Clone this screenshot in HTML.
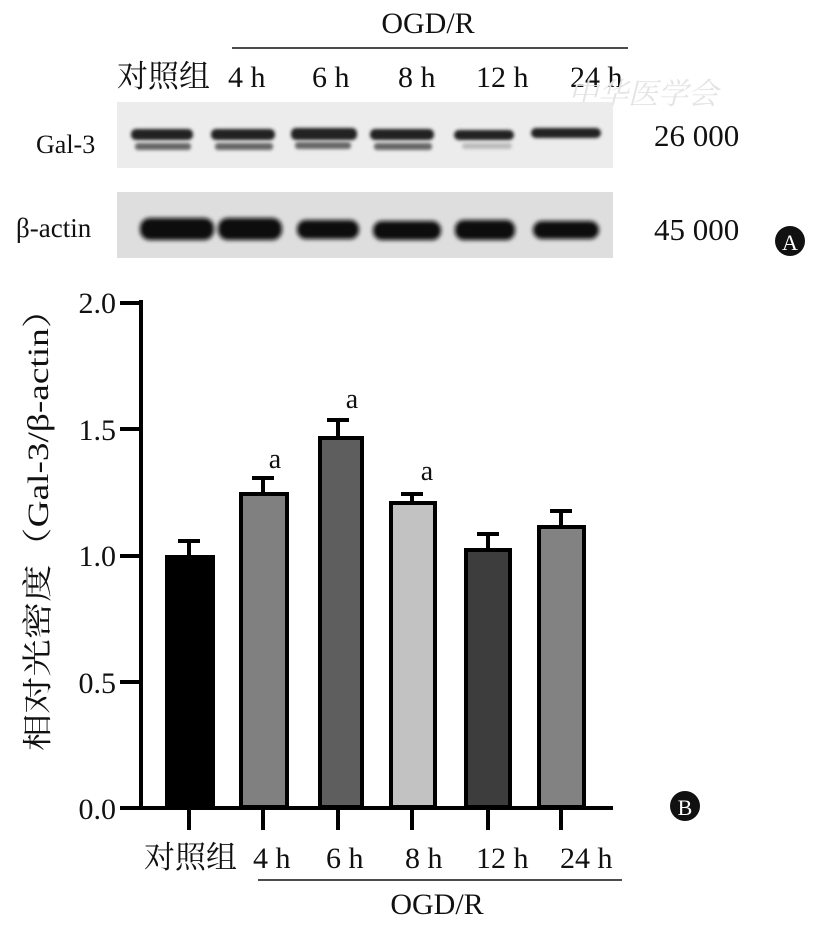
<!DOCTYPE html>
<html><head><meta charset="utf-8"><style>
body{margin:0;background:#fff;}
svg{display:block}
text{font-family:"Liberation Serif","Noto Serif CJK SC",serif;fill:#111}
</style></head><body>
<svg width="825" height="926" viewBox="0 0 825 926" xmlns="http://www.w3.org/2000/svg">
<defs>
<filter id="bl" x="-10%" y="-50%" width="120%" height="200%"><feGaussianBlur stdDeviation="2"/></filter>
<filter id="bl2" x="-10%" y="-50%" width="120%" height="200%"><feGaussianBlur stdDeviation="1.5"/></filter>
</defs>
<text x="428" y="33" font-size="30" text-anchor="middle">OGD/R</text>
<line x1="232" y1="48" x2="628" y2="48" stroke="#111" stroke-width="1.5"/>
<text x="117" y="87" font-size="31">对照组</text>
<text x="228" y="87" font-size="30">4 h</text>
<text x="312" y="87" font-size="30">6 h</text>
<text x="398" y="87" font-size="30">8 h</text>
<text x="476" y="87" font-size="30">12 h</text>
<text x="570" y="87" font-size="30">24 h</text>
<text x="568" y="104" font-size="30" style="fill:#e4e4e4;font-style:italic">中华医学会</text>
<rect x="117" y="102" width="496" height="66" fill="#ececec"/>
<rect x="117" y="192" width="496" height="66" fill="#dedede"/>
<g fill="#222" filter="url(#bl2)">
<rect x="131" y="129" width="62" height="11" rx="5"/>
<rect x="211" y="129" width="64" height="11" rx="5"/>
<rect x="291" y="128" width="66" height="12" rx="5"/>
<rect x="370" y="129" width="64" height="11" rx="5"/>
<rect x="454" y="130" width="60" height="10" rx="5"/>
<rect x="531" y="128" width="70" height="10" rx="5"/>
</g>
<g fill="#666" filter="url(#bl2)">
<rect x="135" y="143" width="56" height="7" rx="3"/>
<rect x="215" y="143" width="58" height="7" rx="3"/>
<rect x="295" y="142" width="56" height="7" rx="3"/>
<rect x="374" y="143" width="58" height="7" rx="3"/>
<rect x="462" y="143" width="50" height="6" rx="3" fill="#bbb"/>
</g>
<g fill="#0c0c0c" filter="url(#bl)">
<rect x="140" y="218" width="74" height="22" rx="10"/>
<rect x="218" y="218" width="64" height="22" rx="10"/>
<rect x="297" y="220" width="62" height="19" rx="9"/>
<rect x="373" y="221" width="68" height="19" rx="9"/>
<rect x="455" y="220" width="60" height="20" rx="9"/>
<rect x="533" y="221" width="66" height="18" rx="9"/>
</g>
<text x="36" y="153" font-size="26">Gal-3</text>
<text x="16" y="237" font-size="27">β-actin</text>
<text x="654" y="146" font-size="31">26 000</text>
<text x="654" y="240" font-size="31">45 000</text>
<circle cx="790" cy="241" r="15" fill="#111"/>
<text x="790" y="250" font-size="22" text-anchor="middle" style="fill:#fff">A</text>
<g stroke="#000" stroke-width="4">
<line x1="141" y1="300" x2="141" y2="809"/>
<line x1="120" y1="808" x2="613" y2="808"/>
<line x1="120" y1="303" x2="141" y2="303"/>
<line x1="120" y1="429" x2="141" y2="429"/>
<line x1="120" y1="556" x2="141" y2="556"/>
<line x1="120" y1="682" x2="141" y2="682"/>
<line x1="189" y1="808" x2="189" y2="830"/>
<line x1="263" y1="808" x2="263" y2="830"/>
<line x1="338" y1="808" x2="338" y2="830"/>
<line x1="412" y1="808" x2="412" y2="830"/>
<line x1="488" y1="808" x2="488" y2="830"/>
<line x1="561" y1="808" x2="561" y2="830"/>
</g>
<g font-size="30" text-anchor="end">
<text x="116" y="313">2.0</text>
<text x="116" y="440">1.5</text>
<text x="116" y="566">1.0</text>
<text x="116" y="693">0.5</text>
<text x="116" y="819">0.0</text>
</g>
<text transform="translate(48,521) rotate(-90)" font-size="30" text-anchor="middle" textLength="460" lengthAdjust="spacingAndGlyphs">相对光密度（Gal-3/β-actin）</text>
<g stroke="#000" stroke-width="4">
<line x1="189" y1="541" x2="189" y2="556"/><line x1="178" y1="541" x2="200" y2="541"/>
<line x1="263" y1="478" x2="263" y2="493"/><line x1="252" y1="478" x2="274" y2="478"/>
<line x1="338" y1="420" x2="338" y2="437"/><line x1="327" y1="420" x2="349" y2="420"/>
<line x1="412" y1="494" x2="412" y2="502"/><line x1="401" y1="494" x2="423" y2="494"/>
<line x1="488" y1="534" x2="488" y2="549"/><line x1="477" y1="534" x2="499" y2="534"/>
<line x1="561" y1="511" x2="561" y2="526"/><line x1="550" y1="511" x2="572" y2="511"/>
<rect x="167" y="557" width="46" height="250" fill="#000"/>
<rect x="241" y="494" width="46" height="313" fill="#808080"/>
<rect x="320" y="438" width="42" height="369" fill="#5e5e5e"/>
<rect x="391" y="503" width="44" height="304" fill="#c2c2c2"/>
<rect x="466" y="550" width="44" height="257" fill="#3d3d3d"/>
<rect x="539" y="527" width="45" height="280" fill="#828282"/>
</g>
<g font-size="28" text-anchor="middle">
<text x="275" y="468">a</text>
<text x="352" y="408">a</text>
<text x="427" y="480">a</text>
</g>
<circle cx="685" cy="806" r="15" fill="#111"/>
<text x="685" y="815" font-size="22" text-anchor="middle" style="fill:#fff">B</text>
<text x="144" y="868" font-size="31">对照组</text>
<text x="253" y="868" font-size="30">4 h</text>
<text x="326" y="868" font-size="30">6 h</text>
<text x="405" y="868" font-size="30">8 h</text>
<text x="476" y="868" font-size="30">12 h</text>
<text x="560" y="868" font-size="30">24 h</text>
<line x1="258" y1="880" x2="622" y2="880" stroke="#111" stroke-width="1.5"/>
<text x="437" y="914" font-size="30" text-anchor="middle">OGD/R</text>
</svg>
</body></html>
